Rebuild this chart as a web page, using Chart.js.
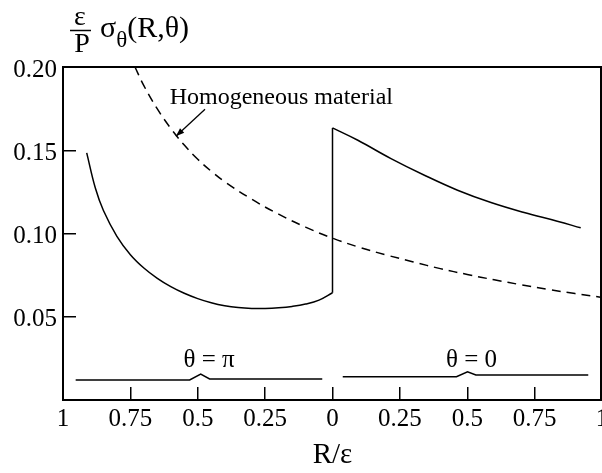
<!DOCTYPE html>
<html>
<head>
<meta charset="utf-8">
<script src="https://cdn.jsdelivr.net/npm/chart.js@4.4.1/dist/chart.umd.min.js"></script>
<style>
  body { margin: 0; background: #fff; }
  canvas { display: block; }
</style>
</head>
<body>
<canvas id="stress-chart" width="602" height="473"></canvas>
<script>
// theta = pi branch (left half, R/eps read from 1 down to 0)
const piR = [0.912, 0.88, 0.85, 0.8, 0.75, 0.7, 0.65, 0.6, 0.55, 0.5, 0.45, 0.4, 0.35, 0.3, 0.25, 0.2, 0.15, 0.1, 0.05, 0];
const piStress = [0.1484, 0.1273, 0.1138, 0.0983, 0.0873, 0.0793, 0.0731, 0.0681, 0.0641, 0.0609, 0.0584, 0.0566, 0.0555, 0.055, 0.055, 0.0554, 0.0562, 0.0576, 0.06, 0.0644];

// theta = 0 branch (right half)
const zeroR = [0, 0.094, 0.217, 0.341, 0.464, 0.588, 0.711, 0.834, 0.921];
const zeroStress = [0.1634, 0.156, 0.145, 0.135, 0.126, 0.1186, 0.1126, 0.1074, 0.1034];

// homogeneous material, position along the axis (left half negative)
const homX = [-0.733, -0.7, -0.65, -0.6, -0.55, -0.5, -0.45, -0.4, -0.3, -0.2, -0.1, 0, 0.1, 0.2, 0.3, 0.4, 0.5, 0.6, 0.7, 0.8, 0.9, 1.0];
const homStress = [0.2, 0.1888, 0.1748, 0.1631, 0.1531, 0.1446, 0.1374, 0.1311, 0.1206, 0.1116, 0.1038, 0.0972, 0.0917, 0.0871, 0.0829, 0.0789, 0.0754, 0.0722, 0.0692, 0.0664, 0.0639, 0.0616];

// little sketches of the geometry under each half
const piSketchX = [-0.953, -0.53, -0.489, -0.456, -0.038];
const piSketchY = [0.012, 0.012, 0.0156, 0.0126, 0.0126];
const zeroSketchX = [0.038, 0.46, 0.501, 0.532, 0.949];
const zeroSketchY = [0.014, 0.014, 0.017, 0.015, 0.015];

const xTicks = [1, 0.75, 0.5, 0.25, 0, 0.25, 0.5, 0.75, 1];
const yTicks = ['0.05', '0.10', '0.15', '0.20'];

const serif = '"Liberation Serif", "Times New Roman", serif';

function pts(xs, ys, sign) {
    return xs.map((x, i) => ({ x: x * sign, y: ys[i] }));
}

const lineBase = {
    borderColor: '#000',
    borderWidth: 1.5,
    pointRadius: 0,
    fill: false
};

// extra drawing: axis title, frame, labels and arrow
const extrasPlugin = {
    id: 'extras',
    afterDraw(chart) {
        const ctx = chart.ctx;
        const xs = chart.scales.x;
        const ys = chart.scales.y;
        const area = chart.chartArea;
        ctx.save();
        ctx.strokeStyle = '#000';
        ctx.fillStyle = '#000';

        // top and right frame
        ctx.lineWidth = 2;
        ctx.beginPath();
        ctx.moveTo(area.left, area.top);
        ctx.lineTo(area.right - 1, area.top);
        ctx.lineTo(area.right - 1, area.bottom);
        ctx.stroke();

        // y axis title  eps/P sigma_theta(R,theta)
        ctx.font = '28px ' + serif;
        ctx.textAlign = 'center';
        ctx.textBaseline = 'alphabetic';
        ctx.fillText('ε', 80, 25);
        ctx.fillText('P', 82, 52);
        ctx.lineWidth = 1.5;
        ctx.beginPath();
        ctx.moveTo(70, 30.5);
        ctx.lineTo(91, 30.5);
        ctx.stroke();
        ctx.textAlign = 'left';
        ctx.font = '30px ' + serif;
        let tx = 100;
        ctx.fillText('σ', tx, 37);
        tx += ctx.measureText('σ').width;
        ctx.font = '23px ' + serif;
        ctx.fillText('θ', tx, 47);
        tx += ctx.measureText('θ').width;
        ctx.font = '30px ' + serif;
        ctx.fillText('(R,θ)', tx, 37);

        // annotation
        ctx.font = '24px ' + serif;
        ctx.fillText('Homogeneous material', xs.getPixelForValue(-0.604), ys.getPixelForValue(0.178));

        const x0 = xs.getPixelForValue(-0.473), y0 = ys.getPixelForValue(0.1746);
        const x1 = xs.getPixelForValue(-0.581), y1 = ys.getPixelForValue(0.1584);
        ctx.lineWidth = 1.3;
        ctx.beginPath();
        ctx.moveTo(x0, y0);
        ctx.lineTo(x1, y1);
        ctx.stroke();
        const ang = Math.atan2(y1 - y0, x1 - x0);
        ctx.beginPath();
        ctx.moveTo(x1, y1);
        ctx.lineTo(x1 - 9 * Math.cos(ang - 0.35), y1 - 9 * Math.sin(ang - 0.35));
        ctx.lineTo(x1 - 9 * Math.cos(ang + 0.35), y1 - 9 * Math.sin(ang + 0.35));
        ctx.closePath();
        ctx.fill();

        ctx.textAlign = 'center';
        ctx.font = '25px ' + serif;
        ctx.fillText('θ = π', xs.getPixelForValue(-0.458), ys.getPixelForValue(0.0201));
        ctx.fillText('θ = 0', xs.getPixelForValue(0.516), ys.getPixelForValue(0.0201));
        ctx.restore();
    }
};

const ctx = document.getElementById('stress-chart').getContext('2d');
new Chart(ctx, {
    type: 'line',
    data: {
        datasets: [
            Object.assign({ data: pts(piR, piStress, -1), tension: 0.4 }, lineBase),
            Object.assign({ data: [{ x: 0, y: piStress[piStress.length - 1] }, { x: 0, y: zeroStress[0] }] }, lineBase),
            Object.assign({ data: pts(zeroR, zeroStress, 1), tension: 0.4 }, lineBase),
            Object.assign({ data: pts(homX, homStress, 1), tension: 0.4, borderDash: [9, 6] }, lineBase),
            Object.assign({ data: pts(piSketchX, piSketchY, 1) }, lineBase),
            Object.assign({ data: pts(zeroSketchX, zeroSketchY, 1) }, lineBase)
        ]
    },
    options: {
        responsive: false,
        animation: false,
        layout: { padding: { top: 67, right: 0, left: 0, bottom: 0 } },
        plugins: { legend: { display: false }, tooltip: { enabled: false } },
        scales: {
            x: {
                type: 'linear',
                min: -1,
                max: 1,
                afterBuildTicks: s => { s.ticks = xTicks.map((v, i) => ({ value: i < 4 ? -v : v })); },
                ticks: {
                    autoSkip: false,
                    maxRotation: 0,
                    padding: 17,
                    color: '#000',
                    font: { family: serif, size: 25 },
                    callback: (v, i) => String(xTicks[i])
                },
                grid: { drawOnChartArea: false, tickLength: -13, color: '#000', lineWidth: 1.5 },
                border: { color: '#000', width: 2 },
                title: { display: true, text: 'R/ε', color: '#000', font: { family: serif, size: 29 }, padding: 0 },
                afterFit: s => { s.height = 73; s.paddingLeft = 0; s.paddingRight = 0; }
            },
            y: {
                min: 0,
                max: 0.2,
                afterBuildTicks: s => { s.ticks = yTicks.map(v => ({ value: parseFloat(v) })); },
                ticks: {
                    padding: 19,
                    labelOffset: 3,
                    color: '#000',
                    font: { family: serif, size: 25 },
                    callback: (v, i) => yTicks[i]
                },
                grid: { drawOnChartArea: false, tickLength: -13, color: '#000', lineWidth: 1.5 },
                border: { color: '#000', width: 2 },
                afterFit: s => { s.width = 63; s.paddingTop = 0; s.paddingBottom = 0; }
            }
        }
    },
    plugins: [extrasPlugin]
});
</script>
</body>
</html>
